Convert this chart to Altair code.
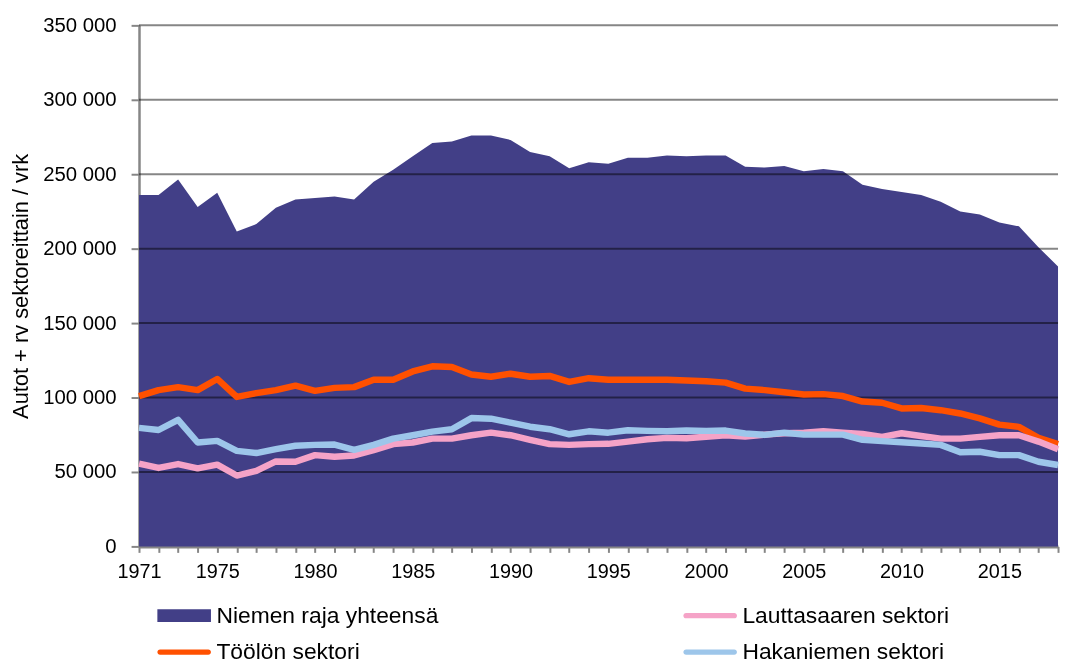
import altair as alt
import pandas as pd

years = list(range(1971, 2019))

niemen = [236000, 236000, 246500, 228000, 237500, 211500, 216500, 227500, 233000, 234000,
          235000, 233000, 245000, 253000, 262000, 271000, 272000, 276000, 276000, 273000,
          265000, 262000, 254000, 258000, 257000, 261000, 261000, 262500, 262000, 262500,
          262500, 255000, 254500, 255500, 252000, 253500, 252000, 243000, 240000, 238000,
          236000, 231500, 225000, 223000, 217500, 215000, 201000, 188000]

toolo = [101000, 105000, 107000, 105000, 112500, 100400, 103000, 105000, 108000, 104500,
         106500, 107000, 112000, 112000, 117500, 121000, 120500, 115500, 114000, 116000,
         114000, 114500, 110500, 113000, 112000, 112000, 112000, 112000, 111500, 111000,
         110000, 106000, 105000, 103500, 102000, 102300, 101000, 97300, 96500, 92700,
         93000, 91500, 89300, 86000, 81800, 80300, 73000, 68700]

lauttasaari = [55600, 52700, 55300, 52400, 54900, 47600, 50700, 57100, 56900, 61300,
               60200, 61100, 64700, 68700, 69800, 72400, 72400, 74700, 76400, 74700,
               71600, 68700, 68200, 68700, 68900, 70400, 72000, 72900, 72700, 73600,
               74700, 73800, 75100, 76000, 76400, 77300, 76400, 75600, 73600, 76000,
               74200, 72400, 72400, 73600, 74700, 74700, 70400, 65300]

hakaniemi = [79600, 78200, 85000, 69800, 70900, 64200, 62700, 65300, 67600, 68200,
             68400, 64900, 68200, 72400, 74700, 77100, 78700, 86200, 85800, 83100,
             80400, 78700, 75300, 77300, 76400, 78000, 77600, 77300, 77800, 77600,
             77800, 75800, 74900, 76400, 75100, 75100, 75100, 71600, 70700, 70000,
             69100, 68200, 63300, 63600, 61300, 61300, 56900, 54700]

# legend order (filled column by column): Niemen, Töölö | Lauttasaari, Hakaniemi
series_names = ["Niemen raja yhteensä", "Töölön sektori", "Lauttasaaren sektori", "Hakaniemen sektori"]
series_colors = ["#423F87", "#FF5000", "#F5A3C7", "#9DC6EA"]

label_years = [1971, 1975, 1980, 1985, 1990, 1995, 2000, 2005, 2010, 2015]
y_ticks = [0, 50000, 100000, 150000, 200000, 250000, 300000, 350000]
grid_values = y_ticks[1:]

rows = []
for name, vals in zip(series_names, [niemen, toolo, lauttasaari, hakaniemi]):
    for yr, v in zip(years, vals):
        rows.append({"year": yr, "value": v, "series": name})
df = pd.DataFrame(rows)
grid_df = pd.DataFrame({"v": grid_values})

W, H = 926, 525
GRAY = "#868686"

rect_path = "M-1,-0.65H4.4V0.65H-1Z"
line_path = "M-0.73,-0.27H4.13A0.27,0.27 0 0 1 4.13,0.27H-0.73A0.27,0.27 0 0 1 -0.73,-0.27Z"

legend = alt.Legend(
    title=None,
    orient="none",
    legendX=17,
    legendY=583,
    columns=2,
    columnPadding=245,
    rowPadding=13,
    padding=0,
    symbolSize=400,
    symbolType=alt.ExprRef(expr=f"indexof(datum.label, 'Niemen') == 0 ? '{rect_path}' : '{line_path}'"),
    symbolFillColor=alt.ExprRef(expr="scale('color', datum.value)"),
    symbolStrokeWidth=0,
    symbolOpacity=1,
    labelFontSize=23,
    labelOffset=38,
    labelColor="#000000",
    labelLimit=400,
)

color = alt.Color(
    "series:N",
    scale=alt.Scale(domain=series_names, range=series_colors),
    legend=legend,
)

x_enc = alt.X(
    "year:Q",
    scale=alt.Scale(domain=[1971, 2018], nice=False, zero=False),
    axis=alt.Axis(
        title=None,
        values=years,
        labelExpr="indexof([" + ",".join(str(y) for y in label_years) + "], datum.value) >= 0 ? '' + datum.value : ''",
        labelOverlap=False,
        labelFlush=False,
        labelFontSize=20,
        labelColor="#000000",
        labelPadding=9,
        tickSize=6,
        tickWidth=2,
        tickColor=GRAY,
        domainColor=GRAY,
        domainWidth=3,
        grid=False,
    ),
)

y_enc = alt.Y(
    "value:Q",
    scale=alt.Scale(domain=[0, 350000], nice=False),
    axis=alt.Axis(
        title="Autot + rv sektoreittain / vrk",
        titleFontSize=22,
        titleFontWeight="normal",
        titleColor="#000000",
        titlePadding=10,
        values=y_ticks,
        labelExpr="replace(format(datum.value, ','), ',', ' ')",
        labelFontSize=20.5,
        labelColor="#000000",
        labelPadding=15,
        tickSize=8,
        tickWidth=2,
        tickColor=GRAY,
        domainColor=GRAY,
        domainWidth=2.5,
        grid=False,
    ),
)

base = alt.Chart(df)

area = base.transform_filter(alt.datum.series == series_names[0]).mark_area(opacity=1).encode(
    x=x_enc, y=y_enc, color=color
)

grid = alt.Chart(grid_df).mark_rule(color=GRAY, strokeWidth=2, blend="multiply").encode(
    y=alt.Y("v:Q", scale=alt.Scale(domain=[0, 350000], nice=False))
)

def line_layer(name):
    return base.transform_filter(alt.datum.series == name).mark_line(
        strokeWidth=6.5, strokeJoin="round", strokeCap="butt"
    ).encode(x=x_enc, y=y_enc, color=color)

chart = alt.layer(
    area, grid,
    line_layer("Töölön sektori"),
    line_layer("Lauttasaaren sektori"),
    line_layer("Hakaniemen sektori"),
).properties(
    width=W, height=H,
    padding={"left": 132, "top": 15, "right": 3, "bottom": 117},
    autosize=alt.AutoSizeParams(type="none"),
).configure(
    font="Liberation Sans",
).configure_view(stroke=None)

chart.save("out.html", embed_options={"renderer": "svg", "actions": False})
